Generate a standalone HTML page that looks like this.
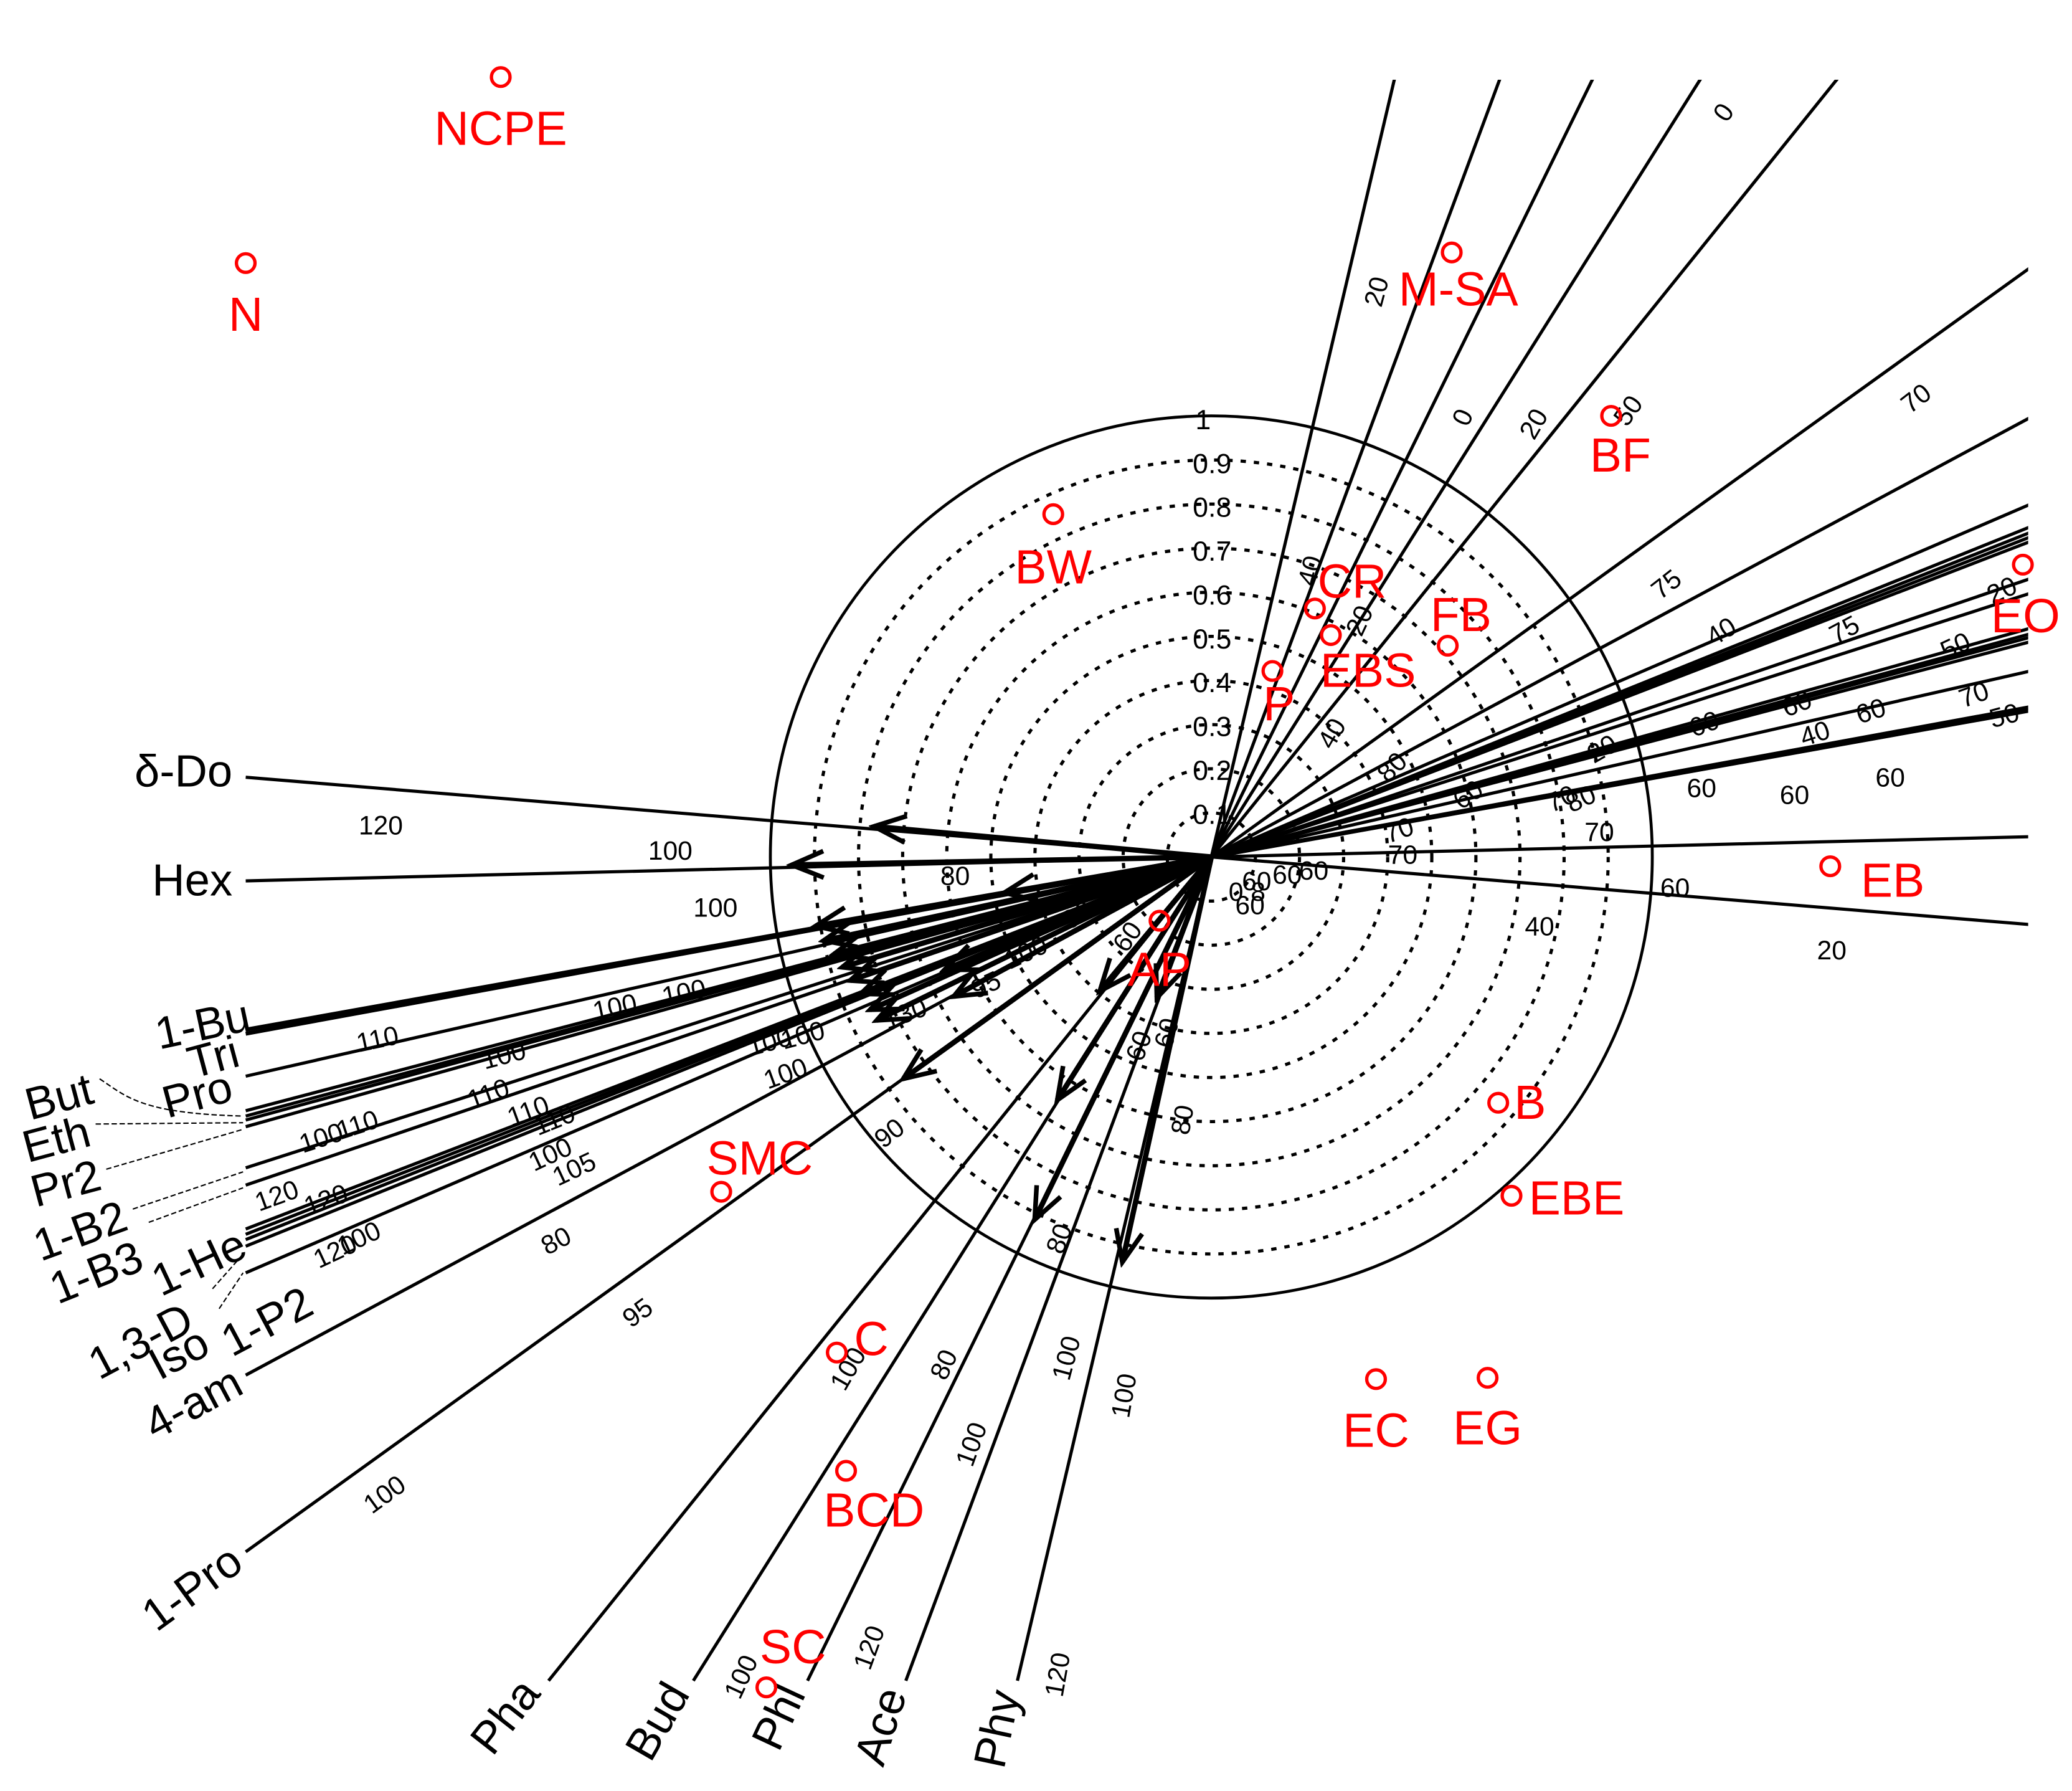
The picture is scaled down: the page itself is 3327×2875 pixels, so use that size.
<!DOCTYPE html>
<html><head><meta charset="utf-8"><style>
html,body{margin:0;padding:0;background:#fff;}
svg{display:block;}
text{font-family:"Liberation Sans",sans-serif;}
</style></head><body>
<svg width="3327" height="2875" viewBox="0 0 1560 1348" preserveAspectRatio="none" xmlns="http://www.w3.org/2000/svg">
<defs>
<clipPath id="cp"><rect x="0" y="60" width="1527" height="1288"/></clipPath>
<marker id="ah" markerWidth="30" markerHeight="30" refX="26" refY="12" orient="auto" markerUnits="userSpaceOnUse" viewBox="0 0 30 24">
<path d="M2,2 L26,12 L2,22" fill="none" stroke="#000" stroke-width="3.5"/>
</marker>
</defs>
<rect width="1560" height="1348" fill="#fff"/>
<g fill="none" stroke="#000">
<circle cx="912" cy="645" r="332" stroke-width="2.2"/>
<g stroke-dasharray="4,6" stroke-width="2.4">
<circle cx="912" cy="645" r="33.2"/><circle cx="912" cy="645" r="66.4"/><circle cx="912" cy="645" r="99.6"/>
<circle cx="912" cy="645" r="132.8"/><circle cx="912" cy="645" r="166"/><circle cx="912" cy="645" r="199.2"/>
<circle cx="912" cy="645" r="232.4"/><circle cx="912" cy="645" r="265.6"/><circle cx="912" cy="645" r="298.8"/>
</g>
</g>
<g stroke="#000" stroke-width="2.4" clip-path="url(#cp)" fill="none">
<line x1="185" y1="585" x2="3093" y2="825"/>
<line x1="185" y1="663" x2="3093" y2="591"/>
<line x1="185" y1="775" x2="3093" y2="255" stroke-width="3"/>
<line x1="185" y1="778" x2="3093" y2="246" stroke-width="3"/>
<line x1="185" y1="810" x2="3093" y2="150"/>
<line x1="185" y1="836" x2="3093" y2="72"/>
<line x1="185" y1="840" x2="3093" y2="60"/>
<line x1="185" y1="843" x2="3093" y2="51"/>
<line x1="185" y1="848" x2="3093" y2="36"/>
<line x1="185" y1="879" x2="3093" y2="-57"/>
<line x1="185" y1="892" x2="3093" y2="-96"/>
<line x1="185" y1="925" x2="3093" y2="-195"/>
<line x1="185" y1="929" x2="3093" y2="-207"/>
<line x1="185" y1="933" x2="3093" y2="-219"/>
<line x1="185" y1="938" x2="3093" y2="-234"/>
<line x1="185" y1="958" x2="3093" y2="-294"/>
<line x1="185" y1="1035" x2="3093" y2="-525"/>
<line x1="185" y1="1168" x2="3093" y2="-924"/>
<line x1="413" y1="1265" x2="1910" y2="-595"/>
<line x1="522" y1="1265" x2="1692" y2="-595"/>
<line x1="608" y1="1265" x2="1520" y2="-595"/>
<line x1="682" y1="1265" x2="1372" y2="-595"/>
<line x1="766" y1="1265" x2="1204" y2="-595"/>
</g>
<g stroke="#000" stroke-width="4" marker-end="url(#ah)">
<line x1="912" y1="645" x2="658" y2="622"/>
<line x1="912" y1="645" x2="596" y2="651"/>
<line x1="912" y1="645" x2="756" y2="672"/>
<line x1="912" y1="645" x2="614" y2="697"/>
<line x1="912" y1="645" x2="620" y2="708"/>
<line x1="912" y1="645" x2="628" y2="718"/>
<line x1="912" y1="645" x2="634" y2="728"/>
<line x1="912" y1="645" x2="640" y2="738"/>
<line x1="912" y1="645" x2="648" y2="748"/>
<line x1="912" y1="645" x2="655" y2="760"/>
<line x1="912" y1="645" x2="660" y2="768"/>
<line x1="912" y1="645" x2="711" y2="730"/>
<line x1="912" y1="645" x2="718" y2="750"/>
<line x1="912" y1="645" x2="680" y2="812"/>
<line x1="912" y1="645" x2="828" y2="746"/>
<line x1="912" y1="645" x2="871" y2="751"/>
<line x1="912" y1="645" x2="796" y2="828"/>
<line x1="912" y1="645" x2="779" y2="918"/>
<line x1="912" y1="645" x2="845" y2="950"/>
</g>
<g font-size="21" fill="#000">
<text x="900" y="323">1</text><text x="898" y="356">0.9</text><text x="898" y="389">0.8</text>
<text x="898" y="422">0.7</text><text x="898" y="455">0.6</text><text x="898" y="488">0.5</text>
<text x="898" y="521">0.4</text><text x="898" y="554">0.3</text><text x="898" y="587">0.2</text>
<text x="898" y="620">0.1</text>
</g>
<g font-size="20" fill="#000">
<text x="270" y="628">120</text><text x="488" y="647">100</text><text x="522" y="690">100</text><text x="708" y="666">80</text>
<text x="270" y="792" transform="rotate(-12 270 792)">110</text>
<text x="365" y="805" transform="rotate(-15 365 805)">100</text>
<text x="448" y="768" transform="rotate(-12 448 768)">100</text>
<text x="500" y="757" transform="rotate(-12 500 757)">100</text>
<text x="355" y="835" transform="rotate(-20 355 835)">110</text>
<text x="385" y="848" transform="rotate(-20 385 848)">110</text>
<text x="405" y="855" transform="rotate(-22 405 855)">110</text>
<text x="228" y="868" transform="rotate(-18 228 868)">100</text><text x="256" y="858" transform="rotate(-18 256 858)">110</text>
<text x="195" y="912" transform="rotate(-20 195 912)">120</text><text x="232" y="915" transform="rotate(-20 232 915)">120</text>
<text x="240" y="955" transform="rotate(-25 240 955)">120</text><text x="258" y="945" transform="rotate(-25 258 945)">100</text>
<text x="402" y="882" transform="rotate(-25 402 882)">100</text><text x="420" y="893" transform="rotate(-25 420 893)">105</text>
<text x="412" y="945" transform="rotate(-28 412 945)">80</text>
<text x="475" y="1000" transform="rotate(-36 475 1000)">95</text>
<text x="280" y="1140" transform="rotate(-36 280 1140)">100</text>
<text x="565" y="795" transform="rotate(-15 565 795)">100</text><text x="590" y="790" transform="rotate(-15 590 790)">100</text>
<text x="578" y="820" transform="rotate(-20 578 820)">100</text>
<text x="668" y="775" transform="rotate(-20 668 775)">130</text>
<text x="735" y="752" transform="rotate(-25 735 752)">95</text>
<text x="760" y="730" transform="rotate(-25 760 730)">100</text>
<text x="805" y="700" transform="rotate(-30 805 700)">90</text>
<text x="848" y="718" transform="rotate(-55 848 718)">60</text>
<text x="665" y="865" transform="rotate(-38 665 865)">90</text>
<text x="636" y="1048" transform="rotate(-60 636 1048)">100</text>
<text x="712" y="1040" transform="rotate(-65 712 1040)">80</text>
<text x="732" y="1105" transform="rotate(-70 732 1105)">100</text>
<text x="805" y="1040" transform="rotate(-75 805 1040)">100</text>
<text x="850" y="1068" transform="rotate(-80 850 1068)">100</text>
<text x="557" y="1280" transform="rotate(-65 557 1280)">100</text>
<text x="655" y="1258" transform="rotate(-70 655 1258)">120</text>
<text x="800" y="1278" transform="rotate(-80 800 1278)">120</text>
<text x="800" y="945" transform="rotate(-70 800 945)">80</text>
<text x="895" y="855" transform="rotate(-80 895 855)">80</text>
<text x="860" y="800" transform="rotate(-70 860 800)">60</text>
<text x="882" y="790" transform="rotate(-75 882 790)">60</text>
<text x="1040" y="232" transform="rotate(-75 1040 232)">20</text>
<text x="1300" y="93" transform="rotate(-55 1300 93)">0</text>
<text x="1105" y="322" transform="rotate(-65 1105 322)">0</text>
<text x="1155" y="332" transform="rotate(-60 1155 332)">20</text>
<text x="1225" y="322" transform="rotate(-55 1225 322)">50</text>
<text x="1438" y="312" transform="rotate(-38 1438 312)">70</text>
<text x="1250" y="452" transform="rotate(-38 1250 452)">75</text>
<text x="1290" y="487" transform="rotate(-32 1290 487)">40</text>
<text x="1382" y="485" transform="rotate(-28 1382 485)">75</text>
<text x="1465" y="497" transform="rotate(-25 1465 497)">50</text>
<text x="1500" y="455" transform="rotate(-25 1500 455)">20</text>
<text x="1345" y="540" transform="rotate(-22 1345 540)">60</text>
<text x="1478" y="533" transform="rotate(-20 1478 533)">70</text>
<text x="1275" y="555" transform="rotate(-20 1275 555)">60</text>
<text x="1358" y="562" transform="rotate(-18 1358 562)">40</text>
<text x="1400" y="545" transform="rotate(-18 1400 545)">60</text>
<text x="1500" y="548" transform="rotate(-15 1500 548)">50</text>
<text x="1270" y="600">60</text><text x="1340" y="605">60</text><text x="1412" y="592">60</text>
<text x="1193" y="633">70</text><text x="1250" y="675">60</text><text x="1148" y="704">40</text>
<text x="1368" y="722">20</text><text x="1045" y="650">70</text>
<text x="990" y="442" transform="rotate(-75 990 442)">40</text>
<text x="1025" y="480" transform="rotate(-65 1025 480)">20</text>
<text x="1003" y="565" transform="rotate(-60 1003 565)">40</text>
<text x="1045" y="590" transform="rotate(-45 1045 590)">80</text>
<text x="1100" y="610" transform="rotate(-35 1100 610)">60</text>
<text x="1168" y="612" transform="rotate(-25 1168 612)">70</text>
<text x="1183" y="612" transform="rotate(-25 1183 612)">80</text>
<text x="1200" y="575" transform="rotate(-30 1200 575)">20</text>
<text x="1045" y="635" transform="rotate(-20 1045 635)">70</text>
<text x="925" y="678">0.8</text><text x="935" y="670">60</text><text x="958" y="665">60</text>
<text x="978" y="662">60</text><text x="930" y="688">60</text>
</g>
<g font-size="34" fill="#000">
<text x="175" y="592" text-anchor="end">δ-Do</text>
<text x="175" y="674" text-anchor="end">Hex</text>
<text x="190" y="775" text-anchor="end" transform="rotate(-12 190 775)">1-Bu</text>
<text x="182" y="802" text-anchor="end" transform="rotate(-15 182 802)">Tri</text>
<text x="177" y="828" text-anchor="end" transform="rotate(-15 177 828)">Pro</text>
<text x="72" y="830" text-anchor="end" transform="rotate(-15 72 830)">But</text>
<text x="70" y="862" text-anchor="end" transform="rotate(-15 70 862)">Eth</text>
<text x="78" y="895" text-anchor="end" transform="rotate(-15 78 895)">Pr2</text>
<text x="98" y="925" text-anchor="end" transform="rotate(-20 98 925)">1-B2</text>
<text x="110" y="955" text-anchor="end" transform="rotate(-22 110 955)">1-B3</text>
<text x="188" y="945" text-anchor="end" transform="rotate(-25 188 945)">1-He</text>
<text x="148" y="1000" text-anchor="end" transform="rotate(-28 148 1000)">1,3-D</text>
<text x="160" y="1018" text-anchor="end" transform="rotate(-28 160 1018)">Iso</text>
<text x="238" y="988" text-anchor="end" transform="rotate(-28 238 988)">1-P2</text>
<text x="185" y="1048" text-anchor="end" transform="rotate(-28 185 1048)">4-am</text>
<text x="185" y="1180" text-anchor="end" transform="rotate(-36 185 1180)">1-Pro</text>
<text x="408" y="1275" text-anchor="end" transform="rotate(-52 408 1275)">Pha</text>
<text x="520" y="1275" text-anchor="end" transform="rotate(-60 520 1275)">Bud</text>
<text x="607" y="1275" text-anchor="end" transform="rotate(-65 607 1275)">Phl</text>
<text x="683" y="1275" text-anchor="end" transform="rotate(-72 683 1275)">Ace</text>
<text x="768" y="1275" text-anchor="end" transform="rotate(-78 768 1275)">Phy</text>
</g>
<g stroke="#000" stroke-width="1" stroke-dasharray="4,2" fill="none">
<path d="M75,812 C95,825 105,838 183,840"/>
<path d="M72,846 L183,845"/>
<path d="M80,880 L183,850"/>
<path d="M100,910 L183,882"/>
<path d="M112,920 L183,894"/>
<path d="M160,970 L183,944"/>
<path d="M165,985 L183,958"/>
</g>
<g fill="none" stroke="#f00" stroke-width="2.5">
<circle cx="377" cy="58" r="7"/><circle cx="185" cy="198" r="7"/><circle cx="1093" cy="190" r="7"/>
<circle cx="1213" cy="313" r="7"/><circle cx="793" cy="387" r="7"/><circle cx="990" cy="458" r="7"/>
<circle cx="1090" cy="486" r="7"/><circle cx="1002" cy="478" r="7"/><circle cx="958" cy="505" r="7"/>
<circle cx="1523" cy="425" r="7"/><circle cx="1378" cy="652" r="7"/><circle cx="873" cy="693" r="7"/>
<circle cx="1128" cy="830" r="7"/><circle cx="1138" cy="900" r="7"/><circle cx="543" cy="897" r="7"/>
<circle cx="630" cy="1018" r="7"/><circle cx="1036" cy="1038" r="7"/><circle cx="1120" cy="1037" r="7"/>
<circle cx="637" cy="1107" r="7"/><circle cx="577" cy="1270" r="7"/>
</g>
<g fill="#f00" font-size="36" text-anchor="middle">
<text x="377" y="109">NCPE</text><text x="185" y="249">N</text><text x="1098" y="230">M-SA</text>
<text x="1220" y="355">BF</text><text x="793" y="439">BW</text><text x="1018" y="450">CR</text>
<text x="1100" y="475">FB</text><text x="1030" y="517">EBS</text><text x="963" y="542">P</text>
<text x="1525" y="476">EO</text><text x="1425" y="675">EB</text><text x="873" y="742">AP</text>
<text x="1152" y="842">B</text><text x="1187" y="914">EBE</text><text x="572" y="884">SMC</text>
<text x="656" y="1020">C</text><text x="1036" y="1089">EC</text><text x="1120" y="1087">EG</text>
<text x="658" y="1149">BCD</text><text x="597" y="1252">SC</text>
</g>
</svg>
</body></html>
